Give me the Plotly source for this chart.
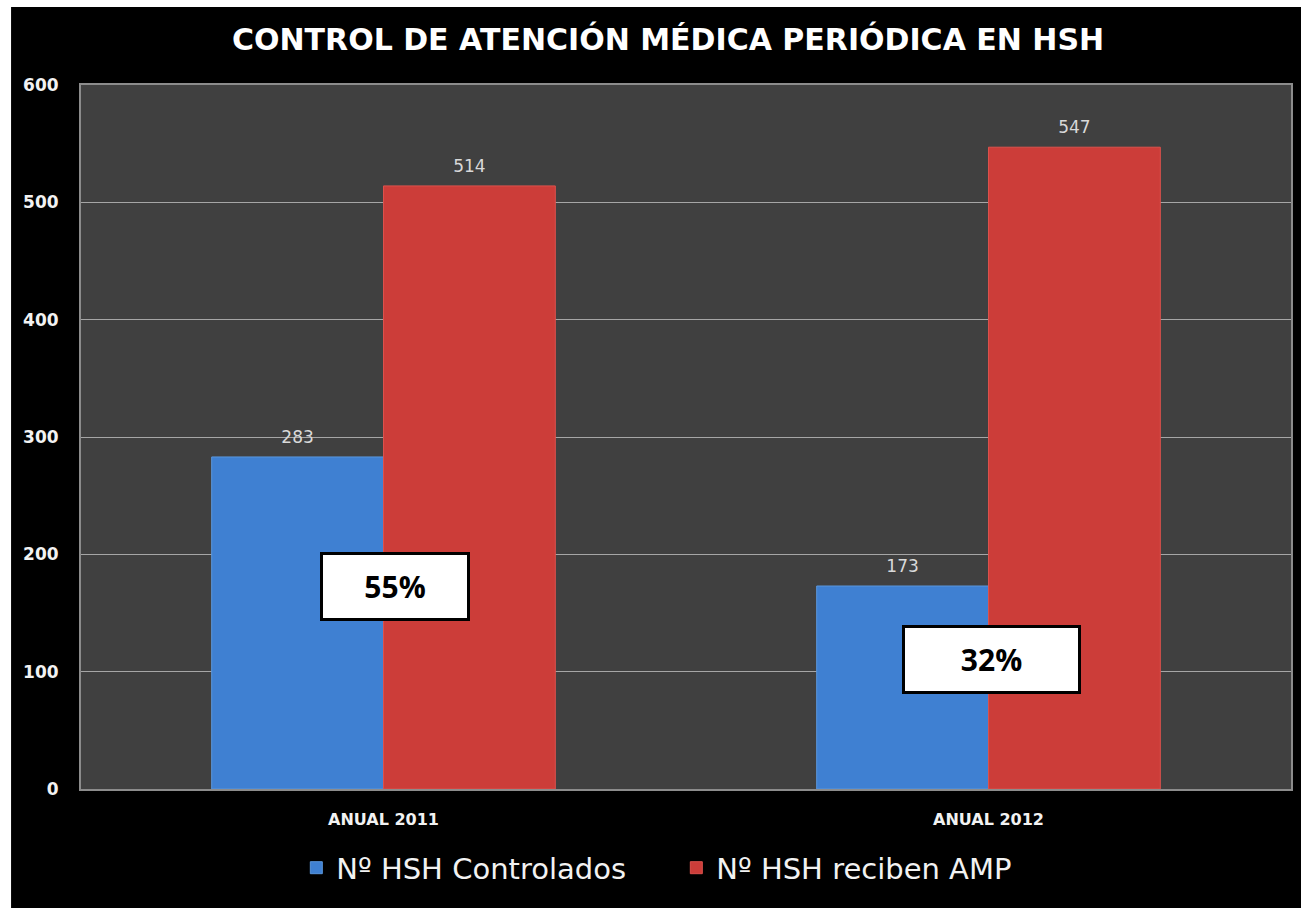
import plotly.graph_objects as go

categories = ["ANUAL 2011", "ANUAL 2012"]
controlados = [283, 173]
reciben_amp = [514, 547]
porcentajes = ["55%", "32%"]
pct_y = [173, 110]
pct_shift = [11, 3]
pct_width = [148, 177]
series_names = ["Nº HSH Controlados", "Nº HSH reciben AMP"]
y_ticks = [0, 100, 200, 300, 400, 500, 600]

TITLE_FONT = "DejaVu Sans"
BODY_FONT = "DejaVu Sans"
BLUE = "#3f80d2"
RED = "#cc3d39"

fig = go.Figure()
for vals, name, col, edge, grp in [
    (controlados, series_names[0], BLUE, "#5a96dc", "a"),
    (reciben_amp, series_names[1], RED, "#dc514c", "b"),
]:
    fig.add_trace(go.Bar(
        x=categories, y=vals, name=name, offsetgroup=grp,
        marker=dict(color=col, line=dict(color=edge, width=1)),
        hoverinfo="x+y",
    ))
for vals, grp in [(controlados, "a"), (reciben_amp, "b")]:
    fig.add_trace(go.Scatter(
        x=categories, y=vals, mode="markers+text", offsetgroup=grp,
        text=[str(v) for v in vals], textposition="top center",
        textfont=dict(color="#d9d9d9", size=17, family=BODY_FONT),
        marker=dict(size=14, opacity=0),
        showlegend=False, hoverinfo="skip", cliponaxis=False,
    ))

for cat, lab, yy, sh, w in zip(categories, porcentajes, pct_y, pct_shift, pct_width):
    fig.add_annotation(
        x=cat, y=yy, xref="x", yref="y", text="<b>" + lab + "</b>",
        showarrow=False, xshift=sh,
        font=dict(size=30, color="black", family="Open Sans"),
        bgcolor="white", bordercolor="black", borderwidth=3,
        width=w - 6, height=61,
    )

# decorative white page strips (outside of chart frame)
fig.add_shape(type="rect", xref="paper", yref="paper",
              x0=-0.08, x1=-0.0578, y0=-0.2, y1=1.2,
              fillcolor="white", line=dict(width=0), layer="below")
fig.add_shape(type="rect", xref="paper", yref="paper",
              x0=-0.08, x1=1.02, y0=1.1108, y1=1.2,
              fillcolor="white", line=dict(width=0), layer="below")

fig.update_layout(
    width=1301, height=908,
    margin=dict(l=81, r=8, t=85, b=119),
    paper_bgcolor="black",
    plot_bgcolor="#404040",
    barmode="group",
    bargap=0.432,
    bargroupgap=0,
    scattermode="group",
    scattergap=0.432,
    title=dict(
        text="<b>CONTROL DE ATENCIÓN MÉDICA PERIÓDICA EN HSH</b>",
        x=0.5135, xanchor="center", y=0.957, yanchor="middle",
        font=dict(size=30, color="white", family=TITLE_FONT),
    ),
    xaxis=dict(
        showgrid=False, showline=True, linecolor="#8c8c8c", linewidth=2,
        mirror=True, ticks="",
        tickfont=dict(color="#f2f2f2", size=16, family=BODY_FONT, weight="bold"),
        ticklabelstandoff=15,
    ),
    yaxis=dict(
        range=[0, 600], tickvals=y_ticks, showgrid=True, gridcolor="#a6a6a6",
        gridwidth=1, showline=True, linecolor="#8c8c8c", linewidth=2, mirror=True,
        zeroline=False,
        tickfont=dict(color="#f2f2f2", size=17, family=BODY_FONT, weight="bold"),
        ticklabelstandoff=17,
    ),
    legend=dict(
        orientation="h", x=0.492, xanchor="center", y=-0.112, yanchor="middle",
        font=dict(size=29, color="#f2f2f2", family=BODY_FONT),
        bgcolor="rgba(0,0,0,0)", entrywidth=335, itemwidth=30,
        traceorder="normal",
    ),
    showlegend=True,
)

fig.write_html("out.html", config={"displayModeBar": False},
               post_script="document.body.style.margin='0';")
